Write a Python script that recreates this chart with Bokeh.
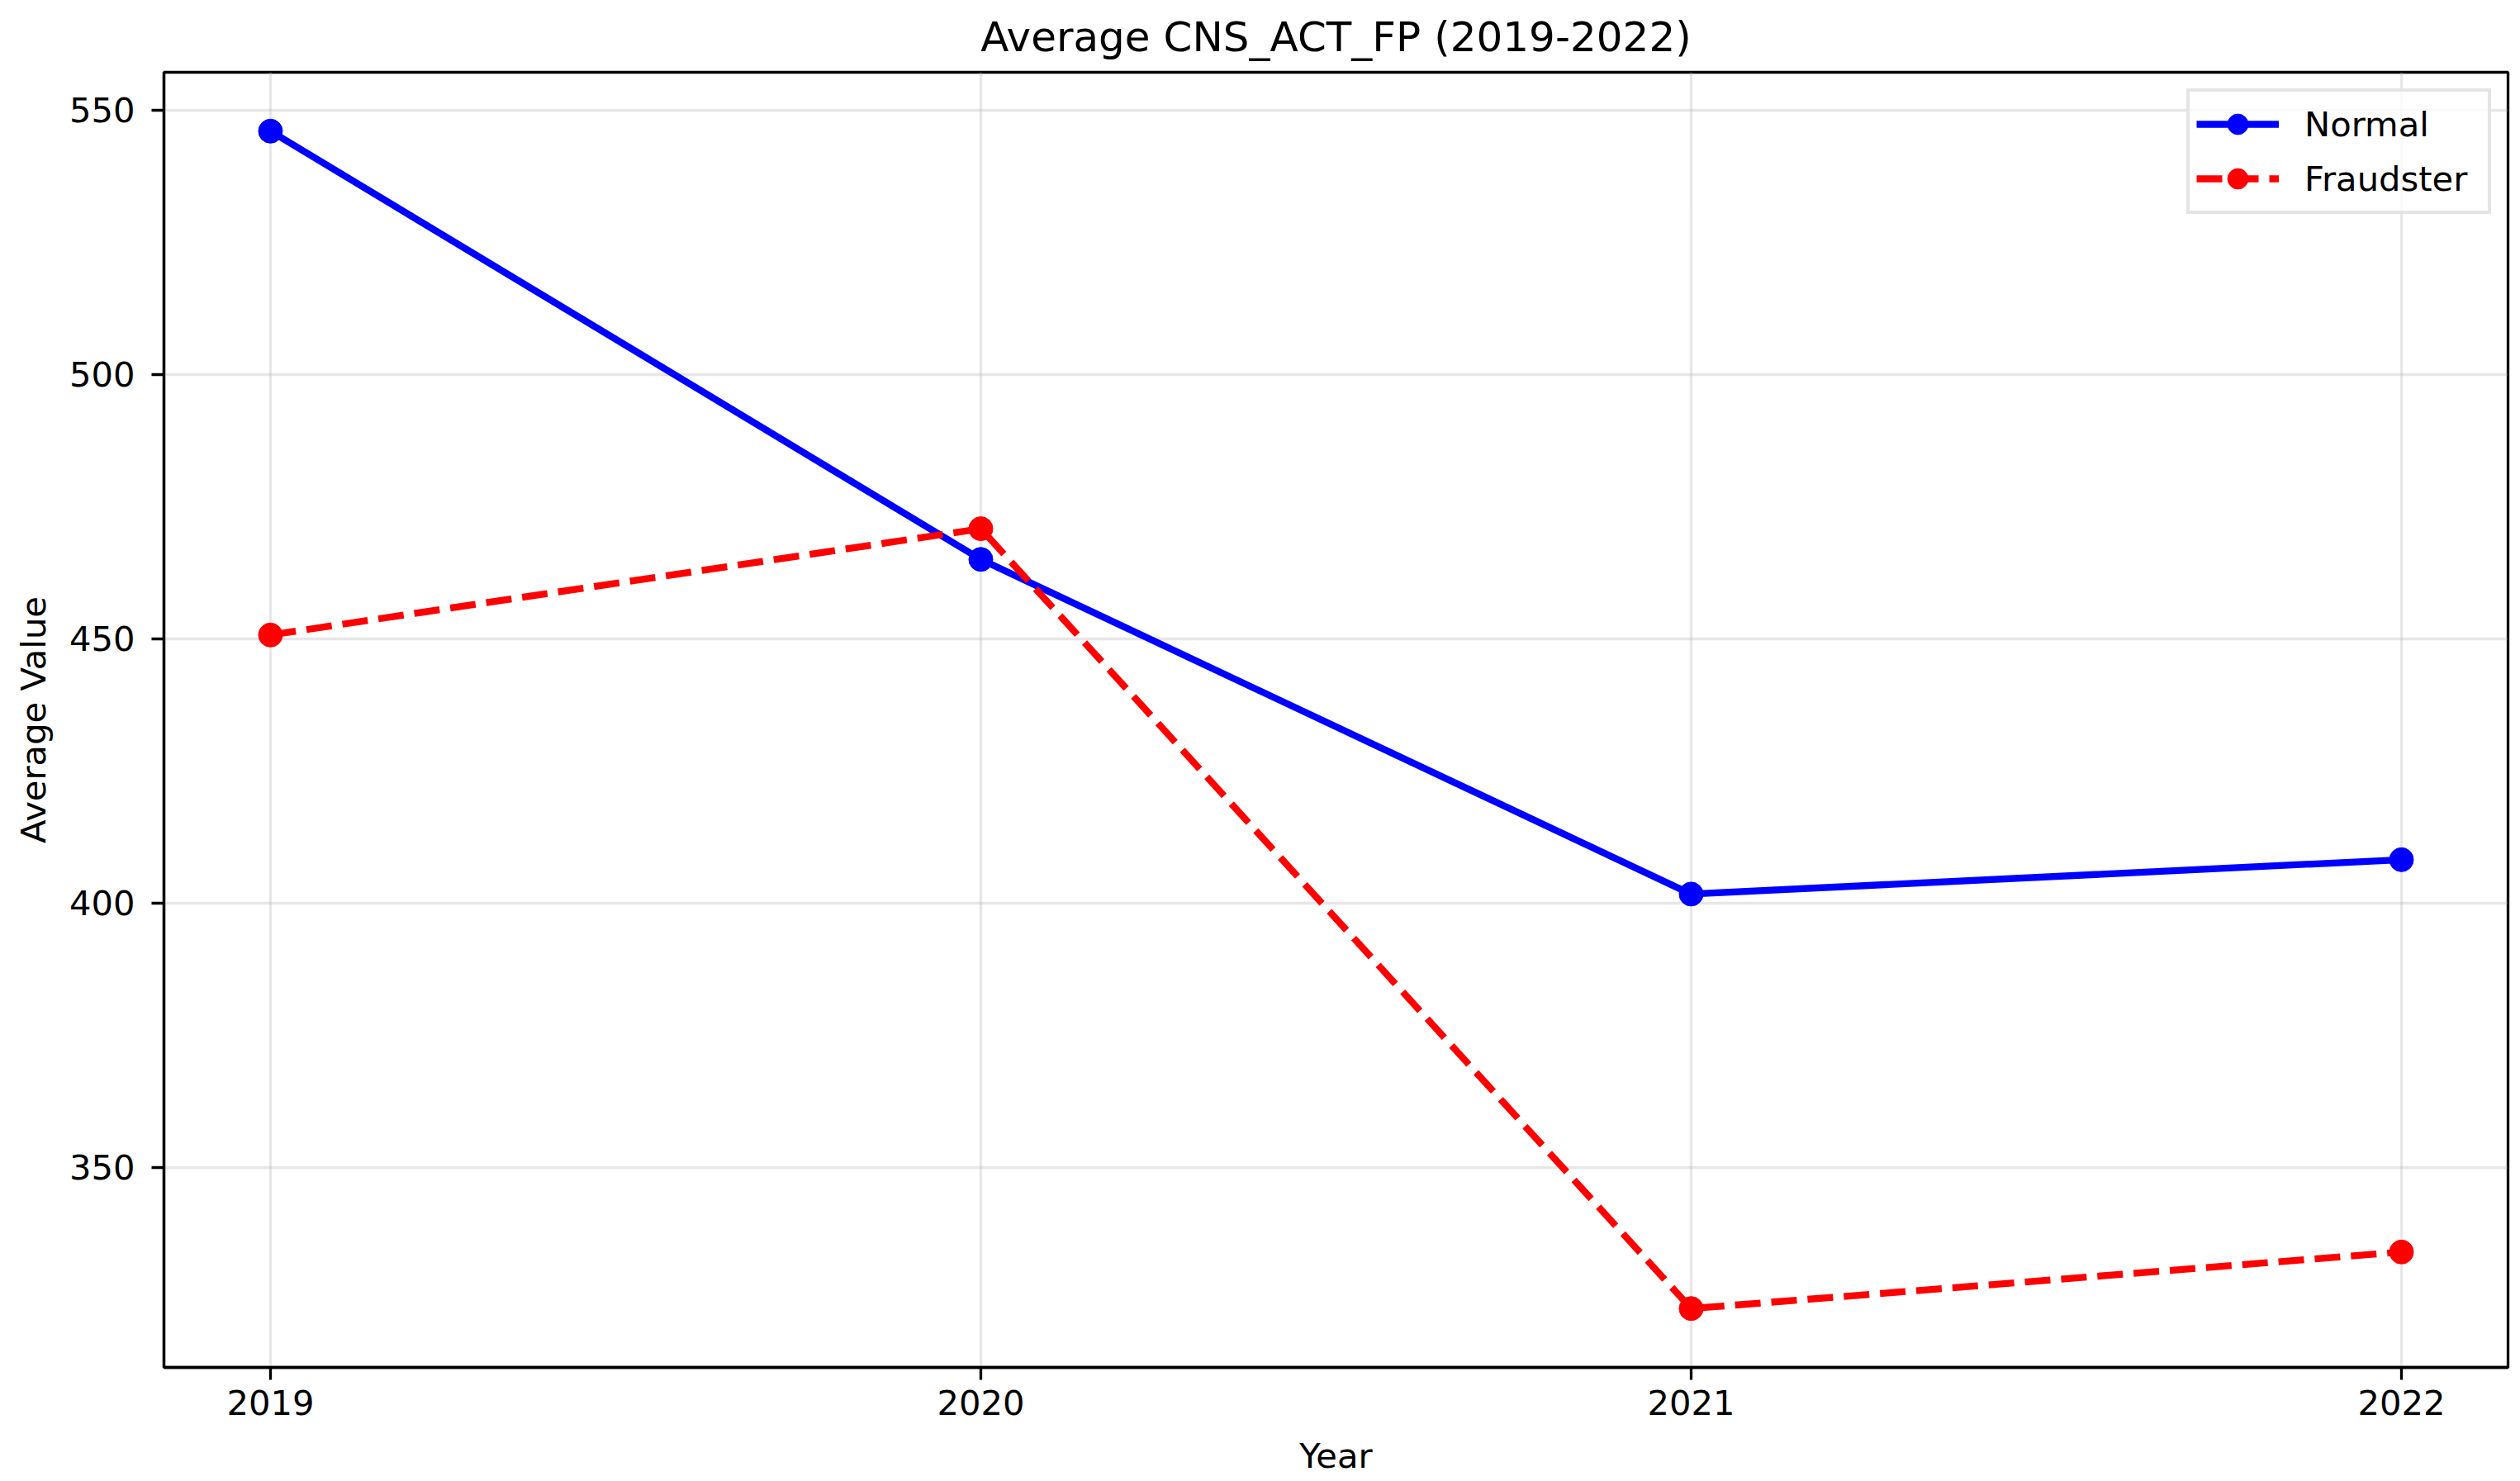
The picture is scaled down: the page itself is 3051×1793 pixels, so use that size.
from bokeh.plotting import figure
from bokeh.models import Range1d, FixedTicker, Legend, LegendItem
from bokeh.embed import file_html
from bokeh.resources import INLINE

# ---- data ----
years = [2019, 2020, 2021, 2022]
normal = [546.0, 465.0, 401.7, 408.2]
fraudster = [450.7, 470.8, 323.3, 334.0]
y_ticks = [350, 400, 450, 500, 550]
title_text = "Average CNS_ACT_FP (2019-2022)"
x_label = "Year"
y_label = "Average Value"

FONT = "DejaVu Sans"
FS = "41.7px"

all_vals = normal + fraudster
lo, hi = min(all_vals), max(all_vals)
pad = 0.05 * (hi - lo)
xpad = 0.05 * (max(years) - min(years))

p = figure(
    frame_width=2838, frame_height=1568,
    min_border_left=198, min_border_right=12,
    min_border_top=84, min_border_bottom=138,
    x_range=Range1d(min(years) - xpad, max(years) + xpad),
    y_range=Range1d(lo - pad, hi + pad),
    title=title_text,
    output_backend="svg", toolbar_location=None,
    background_fill_color="white", border_fill_color="white",
)

p.title.text_font = FONT
p.title.text_font_size = "50px"
p.title.text_font_style = "normal"
p.title.text_color = "black"
p.title.align = "center"
p.title.standoff = 27

p.outline_line_color = "black"
p.outline_line_width = 3.3

for ax in (p.xaxis[0], p.yaxis[0]):
    ax.axis_line_color = "black"
    ax.axis_line_width = 3.3
    ax.major_tick_line_color = "black"
    ax.major_tick_line_width = 3.3
    ax.major_tick_out = 15
    ax.major_tick_in = 0
    ax.minor_tick_line_color = None
    ax.major_label_text_font = FONT
    ax.major_label_text_font_size = FS
    ax.major_label_text_color = "black"
    ax.axis_label_text_font = FONT
    ax.axis_label_text_font_size = FS
    ax.axis_label_text_font_style = "normal"
    ax.axis_label_text_color = "black"

p.xaxis.ticker = FixedTicker(ticks=years)
p.yaxis.ticker = FixedTicker(ticks=y_ticks)
p.xaxis.axis_label = x_label
p.yaxis.axis_label = y_label
p.xaxis.major_label_standoff = 12
p.xaxis.axis_label_standoff = 22
p.yaxis.major_label_standoff = 20
p.yaxis.axis_label_standoff = 16

for g in (p.xgrid[0], p.ygrid[0]):
    g.grid_line_color = "#b0b0b0"
    g.grid_line_alpha = 0.3
    g.grid_line_width = 3.3

r1 = p.line(years, normal, line_color="#0000ff", line_width=8.3)
s1 = p.scatter(years, normal, size=29, fill_color="#0000ff", line_color="#0000ff")
r2 = p.line(years, fraudster, line_color="#ff0000", line_width=8.3, line_dash="31 13")
s2 = p.scatter(years, fraudster, size=29, fill_color="#ff0000", line_color="#ff0000")

legend = Legend(
    items=[LegendItem(label="Normal", renderers=[r1, s1]),
           LegendItem(label="Fraudster", renderers=[r2, s2])],
    location="top_right",
)
legend.margin = 20
legend.padding = 8
legend.spacing = 4
legend.glyph_width = 100
legend.glyph_height = 62
legend.label_height = 62
legend.label_width = 214
legend.label_standoff = 31
legend.label_text_font = FONT
legend.label_text_font_size = FS
legend.label_text_color = "black"
legend.border_line_color = "#cccccc"
legend.border_line_width = 4
legend.background_fill_alpha = 0.8
p.add_layout(legend)

open("out.html", "w").write(file_html(p, INLINE))
